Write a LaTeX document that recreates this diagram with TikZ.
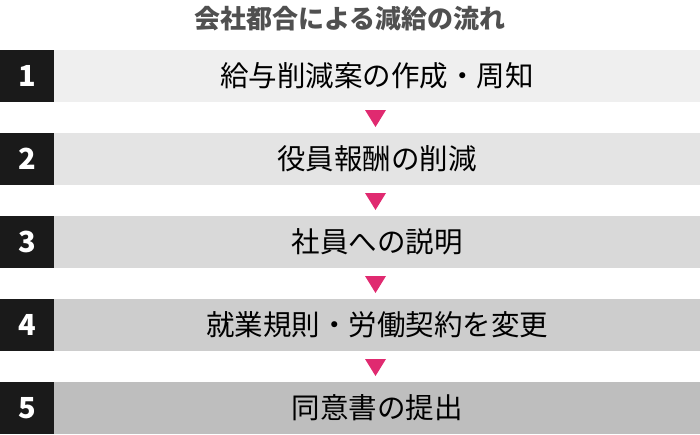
\documentclass[tikz,border=0pt]{standalone}
\usepackage{fontspec}
\setmainfont{Noto Sans CJK JP}
\usetikzlibrary{calc}
\definecolor{numbg}{HTML}{1A1A1A}
\definecolor{stepa}{HTML}{EFEFEF}
\definecolor{stepb}{HTML}{E4E4E4}
\definecolor{stepc}{HTML}{D9D9D9}
\definecolor{stepd}{HTML}{CDCDCD}
\definecolor{stepe}{HTML}{BEBEBE}
\definecolor{flowpink}{HTML}{E02A70}
\definecolor{titlegray}{HTML}{505050}

\begin{document}
\begin{tikzpicture}[x=1pt,y=-1pt,
	numbox/.style={fill=numbg,text=white,minimum width=54pt,minimum height=52pt,inner sep=0pt,font=\fontsize{29}{29}\selectfont\bfseries},
	stepbar/.style={minimum width=646pt,minimum height=52pt,inner sep=0pt,font=\fontsize{28.5}{28.5}\selectfont},
	title/.style={text=titlegray,font=\fontsize{26}{26}\selectfont\bfseries}]
		\useasboundingbox (0,0) rectangle (700,434);
		\node (title) at (350,19)[title] {会社都合による減給の流れ};
		\node (n1) at (27,76)[numbox] {1};
		\node (s1) at (377,76)[stepbar,fill=stepa] {給与削減案の作成・周知};
		\node (n2) at (27,159)[numbox] {2};
		\node (s2) at (377,159)[stepbar,fill=stepb] {役員報酬の削減};
		\node (n3) at (27,242)[numbox] {3};
		\node (s3) at (377,242)[stepbar,fill=stepc] {社員への説明};
		\node (n4) at (27,325)[numbox] {4};
		\node (s4) at (377,325)[stepbar,fill=stepd] {就業規則・労働契約を変更};
		\node (n5) at (27,408)[numbox] {5};
		\node (s5) at (377,408)[stepbar,fill=stepe] {同意書の提出};
		\foreach \a/\b in {s1/s2,s2/s3,s3/s4,s4/s5}{
			\coordinate (m) at ($(\a.south)!0.5!(\b.north)+(-1.5,1)$);
			\fill[flowpink] ($(m)+(-10.5,-8.5)$) -- ($(m)+(10.5,-8.5)$) -- ($(m)+(0,8.5)$) -- cycle;
		}
		\end{tikzpicture}
\end{document}
